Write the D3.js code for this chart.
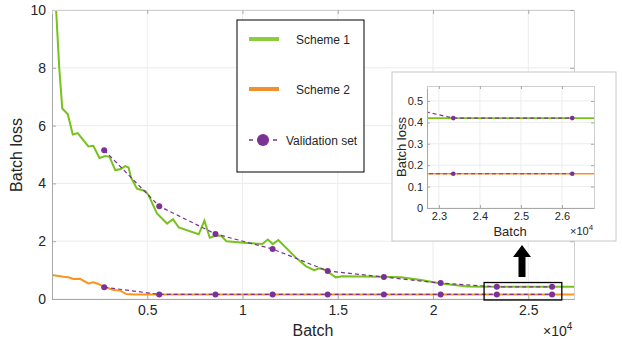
<!DOCTYPE html>
<html>
<head>
<meta charset="utf-8">
<script src="https://cdn.jsdelivr.net/npm/d3@7"></script>
<style>
body { margin: 0; background: #fff; }
text { font-family: "Liberation Sans", Arial, sans-serif; fill: #262626; }
</style>
</head>
<body>
<div id="chart"></div>
<script>
// batch loss curves, x in batches
var scheme1X = [200, 380, 540, 830, 1090, 1350, 1910, 2170, 2490, 2790, 3020, 3320, 3580, 3840, 4020, 4150, 4460, 4890, 5070, 5510, 6040, 6350, 6650, 7700, 8000, 8280, 8580, 8880, 9160, 10070, 11040, 11330, 11590, 11880, 12790, 13320, 13760, 14020, 14370, 14890, 15250, 17260, 18320, 19370, 20420, 21800, 22700, 27400]
var scheme1Y = [10.2, 8.0, 6.59, 6.39, 5.69, 5.74, 5.28, 5.30, 4.88, 4.95, 4.92, 4.46, 4.49, 4.60, 4.55, 4.2, 3.82, 3.74, 3.59, 2.96, 2.61, 2.76, 2.48, 2.24, 2.71, 2.12, 2.19, 2.19, 2.00, 1.95, 1.90, 2.06, 1.90, 2.04, 1.44, 1.14, 1.00, 1.06, 1.00, 0.75, 0.79, 0.77, 0.75, 0.66, 0.54, 0.43, 0.42, 0.42]
var scheme2X = [0, 600, 860, 1120, 1470, 1910, 2170, 2440, 2700, 3230, 3580, 3900, 4280, 27400]
var scheme2Y = [0.83, 0.77, 0.75, 0.69, 0.70, 0.54, 0.58, 0.52, 0.43, 0.31, 0.29, 0.17, 0.16, 0.16]
var valX = [2740, 5630, 8580, 11580, 14470, 17420, 20400, 23350, 26250]
var val1Y = [5.15, 3.21, 2.25, 1.73, 0.97, 0.76, 0.55, 0.42, 0.42]
var val2Y = [0.41, 0.16, 0.16, 0.16, 0.16, 0.16, 0.16, 0.16, 0.16]

var xTicks = [5000, 10000, 15000, 20000, 25000]
var yTicks = [0, 2, 4, 6, 8, 10]
var insetXTicks = [23000, 24000, 25000, 26000]
var insetYTicks = [0, 0.1, 0.2, 0.3, 0.4, 0.5]
var legendNames = ["Scheme 1", "Scheme 2", "Validation set"]

var green = "#77c21c", orange = "#f7951c", purple = "#7b3294"
var width = 622, height = 343

var svg = d3.select("#chart").append("svg")
    .attr("width", width).attr("height", height)

var defs = svg.append("defs")

function zip(xs, ys) { return xs.map(function(x, i) { return [x, ys[i]]; }) }

function drawPanel(g, x, y, id, o) {
    var x0 = x.range()[0], x1 = x.range()[1], y0 = y.range()[0], y1 = y.range()[1]
    defs.append("clipPath").attr("id", id).append("rect")
        .attr("x", x0).attr("y", y1).attr("width", x1 - x0).attr("height", y0 - y1)
    // grid
    g.append("g").selectAll("line").data(o.xt).enter().append("line")
        .attr("x1", function(d) { return x(d); }).attr("x2", function(d) { return x(d); })
        .attr("y1", y0).attr("y2", y1).attr("stroke", "#ececec")
    g.append("g").selectAll("line").data(o.yt).enter().append("line")
        .attr("y1", function(d) { return y(d); }).attr("y2", function(d) { return y(d); })
        .attr("x1", x0).attr("x2", x1).attr("stroke", "#ececec")

    var line = d3.line().x(function(d) { return x(d[0]); }).y(function(d) { return y(d[1]); })
    var lines = g.append("g").attr("clip-path", "url(#" + id + ")")
    lines.append("path").datum(zip(scheme1X, scheme1Y)).attr("d", line)
        .attr("fill", "none").attr("stroke", green).attr("stroke-width", o.lw)
    lines.append("path").datum(zip(scheme2X, scheme2Y)).attr("d", line)
        .attr("fill", "none").attr("stroke", orange).attr("stroke-width", o.lw)
    ;[val1Y, val2Y].forEach(function(vy) {
        lines.append("path").datum(zip(valX, vy)).attr("d", line)
            .attr("fill", "none").attr("stroke", purple).attr("stroke-width", 1.2)
            .attr("stroke-dasharray", "4,3")
        lines.selectAll(null).data(zip(valX, vy)).enter().append("circle")
            .attr("cx", function(d) { return x(d[0]); }).attr("cy", function(d) { return y(d[1]); })
            .attr("r", o.r).attr("fill", purple)
    })

    // axes
    var ax = g.append("g").attr("transform", "translate(0," + y0 + ")")
        .call(d3.axisBottom(x).tickValues(o.xt).tickSize(-o.tk).tickPadding(o.pad).tickFormat(o.xf))
    var ay = g.append("g").attr("transform", "translate(" + x0 + ",0)")
        .call(d3.axisLeft(y).tickValues(o.yt).tickSize(-o.tk).tickPadding(o.pad).tickFormat(o.yf))
    var at = g.append("g").attr("transform", "translate(0," + y1 + ")")
        .call(d3.axisTop(x).tickValues(o.xt).tickSize(-o.tk).tickFormat(""))
    var ar = g.append("g").attr("transform", "translate(" + x1 + ",0)")
        .call(d3.axisRight(y).tickValues(o.yt).tickSize(-o.tk).tickFormat(""))
    ;[ax, ay, at, ar].forEach(function(a) {
        a.select(".domain").attr("stroke", "#a8a8a8")
        a.selectAll(".tick line").attr("stroke", "#a8a8a8")
        a.selectAll("text").style("font-family", "Liberation Sans, Arial, sans-serif")
            .style("font-size", o.fs + "px").attr("fill", "#262626")
    })
    at.select(".domain").attr("stroke", "#cfcfcf")
    ar.select(".domain").attr("stroke", "#cfcfcf")
}

// main panel
var x = d3.scaleLinear().domain([0, 27400]).range([52, 574])
var y = d3.scaleLinear().domain([0, 10]).range([299, 10])
var main = svg.append("g")
drawPanel(main, x, y, "clipMain", {
    xt: xTicks, yt: yTicks, lw: 2, r: 3, tk: 4, pad: 6, fs: 14,
    xf: function(d) { return d3.format("~g")(d / 1e4); }, yf: d3.format("~g")
})
main.append("text").attr("x", 313).attr("y", 336).attr("text-anchor", "middle")
    .style("font-size", "16px").text("Batch")
main.append("text").attr("transform", "translate(22,155) rotate(-90)").attr("text-anchor", "middle")
    .style("font-size", "16px").text("Batch loss")
var m10 = main.append("text").attr("x", 543).attr("y", 336).style("font-size", "14px")
m10.append("tspan").text("\u00d710")
m10.append("tspan").attr("dy", -6).style("font-size", "10px").text("4")

// zoom rectangle and arrow
main.append("rect").attr("x", x(22680)).attr("y", y(0.57))
    .attr("width", x(26760) - x(22680)).attr("height", y(0) - y(0.57) + 1)
    .attr("fill", "none").attr("stroke", "#000").attr("stroke-width", 1.3)
main.append("path").attr("d", "M518.5,277 L518.5,257 L513,257 L522,245 L531,257 L525.5,257 L525.5,277 Z")
    .attr("fill", "#000")

// legend
var leg = svg.append("g")
leg.append("rect").attr("x", 237).attr("y", 20).attr("width", 127).attr("height", 152)
    .attr("fill", "#fff").attr("stroke", "#000").attr("stroke-width", 1)
var legY = [39, 89, 140]
leg.append("line").attr("x1", 249).attr("x2", 279).attr("y1", legY[0]).attr("y2", legY[0])
    .attr("stroke", "#8bcd3c").attr("stroke-width", 4)
leg.append("line").attr("x1", 249).attr("x2", 279).attr("y1", legY[1]).attr("y2", legY[1])
    .attr("stroke", "#f0902f").attr("stroke-width", 4)
leg.append("line").attr("x1", 249).attr("x2", 277).attr("y1", legY[2]).attr("y2", legY[2])
    .attr("stroke", purple).attr("stroke-width", 1.5).attr("stroke-dasharray", "4,4")
leg.append("circle").attr("cx", 263).attr("cy", legY[2]).attr("r", 6).attr("fill", purple)
leg.selectAll(null).data(legendNames).enter().append("text")
    .attr("x", function(d, i) { return i < 2 ? 296 : 286; })
    .attr("y", function(d, i) { return legY[i] + 5; })
    .style("font-size", "12px").text(function(d) { return d; })

// inset
var ins = svg.append("g")
ins.append("rect").attr("x", 392).attr("y", 72).attr("width", 224).attr("height", 169)
    .attr("fill", "#fff").attr("stroke", "#c8c8c8")
var xi = d3.scaleLinear().domain([22710, 26780]).range([427, 594])
var yi = d3.scaleLinear().domain([0, 0.57]).range([208, 86])
drawPanel(ins, xi, yi, "clipInset", {
    xt: insetXTicks, yt: insetYTicks, lw: 1.6, r: 2.3, tk: 3, pad: 4, fs: 11,
    xf: function(d) { return d3.format("~g")(d / 1e4); }, yf: d3.format("~g")
})
ins.append("text").attr("x", 510).attr("y", 236).attr("text-anchor", "middle")
    .style("font-size", "13px").text("Batch")
ins.append("text").attr("transform", "translate(406,147) rotate(-90)").attr("text-anchor", "middle")
    .style("font-size", "13px").text("Batch loss")
var i10 = ins.append("text").attr("x", 570).attr("y", 235).style("font-size", "11px").attr("fill", "#555")
i10.append("tspan").text("\u00d710")
i10.append("tspan").attr("dy", -5).style("font-size", "8px").text("4")
</script>
</body>
</html>
